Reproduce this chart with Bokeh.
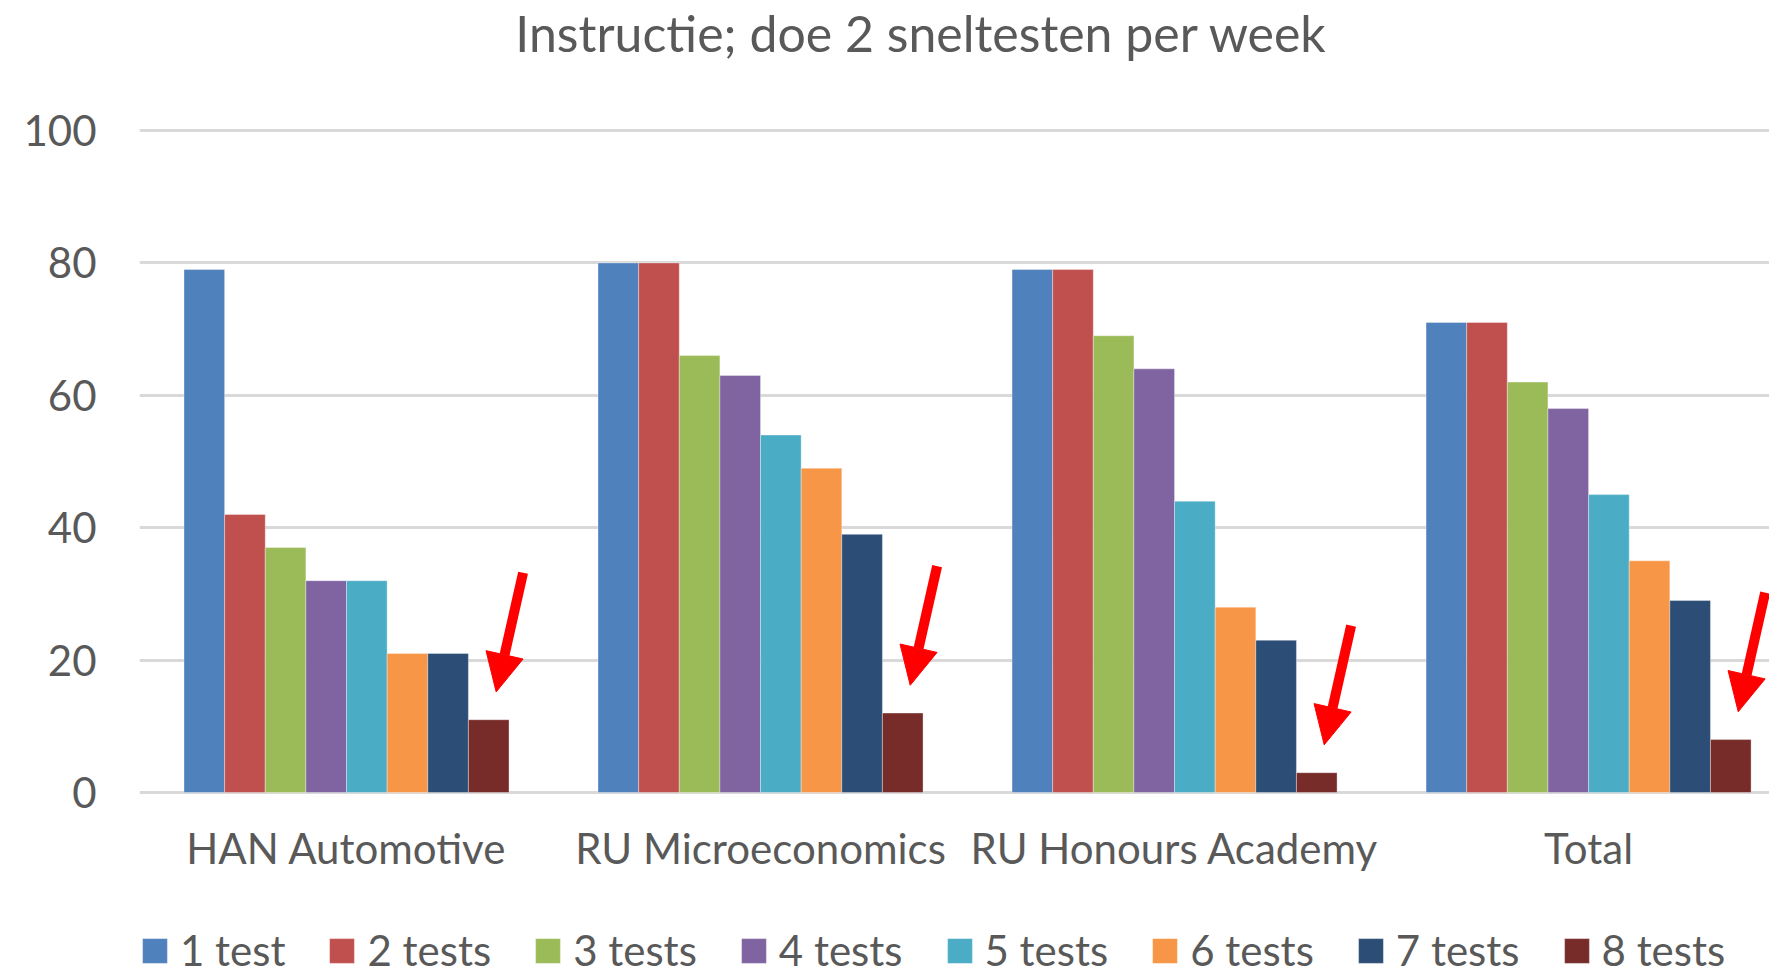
from bokeh.plotting import figure
from bokeh.models import FixedTicker, Legend, LegendItem, Arrow, NormalHead, Label
from bokeh.core.properties import value
from bokeh.embed import file_html
from bokeh.resources import INLINE

# ---- data ----
categories = ["HAN Automotive", "RU Microeconomics", "RU Honours Academy", "Total"]
series = ["1 test", "2 tests", "3 tests", "4 tests", "5 tests", "6 tests", "7 tests", "8 tests"]
t1 = [79, 80, 79, 71]
t2 = [42, 80, 79, 71]
t3 = [37, 66, 69, 62]
t4 = [32, 63, 64, 58]
t5 = [32, 54, 44, 45]
t6 = [21, 49, 28, 35]
t7 = [21, 39, 23, 29]
t8 = [11, 12, 3, 8]
y_ticks = [0, 20, 40, 60, 80, 100]
title_text = "Instructie; doe 2 sneltesten per week"

values = [t1, t2, t3, t4, t5, t6, t7, t8]
colors = ["#4F81BD", "#C0504D", "#9BBB59", "#8064A2",
          "#4BACC6", "#F79646", "#2C4D75", "#772C2A"]

TEXT = "#595959"
FONT = "Lato"

n_series = len(series)
gap = 2.19
bar_w = 1.0 / (n_series + gap)

# The frame spans the whole height; title, category labels and legend live inside it.
p = figure(width=1769, height=975, output_backend="svg", toolbar_location=None,
           x_range=(-0.5, 3.437), y_range=(-27.64, 119.64),
           min_border_left=139, min_border_right=0, min_border_top=0,
           min_border_bottom=0)
p.outline_line_color = None
p.background_fill_color = "white"
p.border_fill_color = "white"
p.xaxis.visible = False

renderers = []
xs_idx = list(range(len(categories)))
for j, (vals, col) in enumerate(zip(values, colors)):
    off = (j - (n_series - 1) / 2) * bar_w
    xs = [i + off for i in xs_idx]
    r = p.vbar(x=xs, top=vals, width=bar_w, bottom=0,
               fill_color=col, line_color="white", line_alpha=0.35, line_width=1)
    renderers.append(r)

# arrows pointing at the "8 tests" bars
off8 = (n_series - 1) / 2 * bar_w
head = dict(size=38, fill_color="#FF0000", line_color="#FF0000", line_width=1)
for i, v in enumerate(t8):
    p.add_layout(Arrow(end=NormalHead(**head),
                       x_start=i + off8 + 0.083, y_start=v + 4.2 + 18.0,
                       x_end=i + off8 + 0.018, y_end=v + 4.2,
                       line_color="#FF0000", line_width=10))

# category labels under the groups
p.text(x=xs_idx, y=[-8.45] * len(categories), text=categories,
       text_align="center", text_baseline="alphabetic",
       text_font=value(FONT), text_font_size="42px", text_color=TEXT)

# chart title
p.add_layout(Label(x=1.389, y=114.75, text=title_text, text_align="center",
                   text_baseline="alphabetic", text_font=FONT, text_font_size="50px",
                   text_color=TEXT))

# y axis
p.yaxis.ticker = FixedTicker(ticks=y_ticks)
p.yaxis.axis_line_color = None
p.yaxis.major_tick_line_color = None
p.yaxis.minor_tick_line_color = None
p.yaxis.major_label_text_font = FONT
p.yaxis.major_label_text_font_size = "42px"
p.yaxis.major_label_text_color = TEXT
p.yaxis.major_label_standoff = 37

p.xgrid.grid_line_color = None
p.ygrid.ticker = FixedTicker(ticks=y_ticks)
p.ygrid.grid_line_color = "#D9D9D9"
p.ygrid.grid_line_width = 3

legend = Legend(items=[LegendItem(label=s, renderers=[r]) for s, r in zip(series, renderers)],
                orientation="horizontal", location="bottom_left",
                glyph_width=31, glyph_height=31, label_standoff=10, spacing=41,
                label_text_font=FONT, label_text_font_size="42px", label_text_color=TEXT,
                border_line_color=None, background_fill_alpha=0, padding=0, margin=0)
p.add_layout(legend, "center")

open("out.html", "w").write(file_html(p, INLINE))
